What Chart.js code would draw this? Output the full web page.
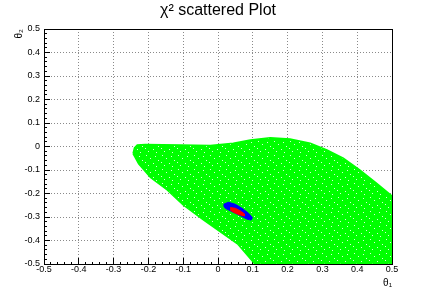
<!DOCTYPE html>
<html>
<head>
<meta charset="utf-8">
<title>chi2 scattered Plot</title>
<script src="https://cdn.jsdelivr.net/npm/chart.js@4.4.0/dist/chart.umd.min.js"></script>
<style>
  html, body { margin: 0; padding: 0; background: #fff; }
  #wrap { position: relative; width: 436px; height: 295px; }
</style>
</head>
<body>
<div id="wrap"><canvas id="chi2Chart"></canvas></div>
<script>
'use strict';

// ---- Values ----
const tickLabels = ['-0.5', '-0.4', '-0.3', '-0.2', '-0.1', '0', '0.1', '0.2', '0.3', '0.4', '0.5'];

// outline of the green cloud (theta1, theta2)
const greenX = [-0.244, -0.240, -0.232, -0.209, -0.108, -0.022, 0.044, 0.093, 0.150, 0.207, 0.265, 0.313, 0.360, 0.408, 0.456, 0.500, 0.500, 0.106, 0.056, -0.041, -0.100, -0.146, -0.194, -0.228, -0.244];
const greenY = [-0.030, -0.006, 0.006, 0.009, 0.006, 0.004, 0.014, 0.028, 0.037, 0.032, 0.014, -0.015, -0.050, -0.100, -0.157, -0.211, -0.500, -0.500, -0.414, -0.313, -0.249, -0.185, -0.132, -0.074, -0.030];

// outline of the blue ellipse
const blueX = [0.016, 0.030, 0.050, 0.069, 0.088, 0.099, 0.095, 0.083, 0.064, 0.040, 0.021, 0.016];
const blueY = [-0.246, -0.237, -0.246, -0.263, -0.284, -0.303, -0.313, -0.309, -0.294, -0.277, -0.263, -0.252];

// outline of the red core
const redX = [0.035, 0.050, 0.064, 0.076, 0.076, 0.059, 0.045, 0.035];
const redY = [-0.260, -0.263, -0.274, -0.287, -0.296, -0.289, -0.280, -0.270];

const toPoints = (xs, ys) => xs.map((x, i) => ({ x: x, y: ys[i] }));

Chart.defaults.font.family = '"Liberation Sans", Arial, sans-serif';
Chart.defaults.color = '#000';

// speckled fill so the region reads like a dense point cloud (fixed tile)
const speckPx = [[2, 1], [11, 2], [6, 4], [14, 6], [1, 8], [9, 9], [4, 11], [12, 12]];
function speckle(color) {
  const c = document.createElement('canvas');
  c.width = 16; c.height = 14;
  const g = c.getContext('2d');
  g.fillStyle = color;
  g.fillRect(0, 0, 16, 14);
  g.fillStyle = '#d8ffd8';
  speckPx.forEach(p => g.fillRect(p[0], p[1], 1, 1));
  return g.createPattern(c, 'repeat');
}

// major tick every 0.1, minor every 0.02
function tickIndex(v) { return Math.round((v + 0.5) / 0.02); }
function isMajor(v) { return tickIndex(v) % 5 === 0; }
function tickText(v) { return isMajor(v) ? tickLabels[tickIndex(v) / 5] : ''; }

function axisCfg(position, size) {
  const horizontal = position === 'bottom';
  return {
    type: 'linear',
    position: position,
    min: -0.5,
    max: 0.5,
    afterFit: s => { if (horizontal) s.height = size; else s.width = size; },
    ticks: {
      stepSize: 0.02,
      autoSkip: false,
      maxRotation: 0,
      padding: horizontal ? 6 : 10,
      font: { size: 9 },
      color: '#000',
      callback: v => tickText(v),
    },
    grid: {
      color: c => (c.tick && isMajor(c.tick.value)) ? '#8a8a8a' : 'rgba(0,0,0,0)',
      lineWidth: 1,
      tickLength: -6,
      tickColor: '#000',
      tickWidth: 1,
      tickBorderDash: c => (c.tick && isMajor(c.tick.value)) ? [] : (horizontal ? [3, 100] : [0, 3, 4, 100]),
    },
    border: { display: true, color: '#000', width: 1, dash: [1, 2] },
    title: {
      display: true,
      text: horizontal ? 'θ₁' : 'θ₂',
      align: 'end',
      font: { size: 10 },
      color: '#000',
      padding: horizontal ? { top: 0, bottom: 6 } : { top: 13, bottom: 0 },
    },
  };
}

function frameCfg(position, size) {
  return {
    type: 'linear',
    position: position,
    min: -0.5,
    max: 0.5,
    afterFit: s => { if (position === 'top') s.height = size; else s.width = size; },
    ticks: { display: false },
    grid: { display: false },
    border: { display: true, color: '#000', width: 1 },
  };
}

// ---- Chi2 scatter ----
function initChi2Chart() {
  const ctx = document.getElementById('chi2Chart');
  if (!ctx) return;

  new Chart(ctx, {
    type: 'scatter',
    data: {
      datasets: [
        {
          label: 'red',
          data: toPoints(redX, redY),
          showLine: true,
          fill: 'shape',
          backgroundColor: '#ff0000',
          borderColor: '#ff0000',
          borderWidth: 1,
          pointRadius: 0,
          order: 1,
        },
        {
          label: 'blue',
          data: toPoints(blueX, blueY),
          showLine: true,
          fill: 'shape',
          backgroundColor: '#0000ff',
          borderColor: '#0000ff',
          borderWidth: 1,
          pointRadius: 0,
          order: 2,
        },
        {
          label: 'green',
          data: toPoints(greenX, greenY),
          showLine: true,
          fill: 'shape',
          backgroundColor: speckle('#00ff00'),
          borderColor: '#00ff00',
          borderWidth: 1.5,
          pointRadius: 0,
          order: 3,
        },
      ],
    },
    options: {
      responsive: true,
      maintainAspectRatio: false,
      animation: false,
      layout: { padding: 0 },
      plugins: {
        legend: { display: false },
        tooltip: { enabled: false },
        title: {
          display: true,
          text: 'χ² scattered Plot',
          color: '#000',
          font: { size: 16, weight: 'normal', lineHeight: 1.2 },
          padding: { top: 1, bottom: 8.8 },
        },
      },
      scales: {
        x: axisCfg('bottom', 31),
        y: axisCfg('left', 44),
        xTop: frameCfg('top', 0),
        yRight: frameCfg('right', 44),
      },
    },
  });
}

initChi2Chart();
</script>
</body>
</html>
